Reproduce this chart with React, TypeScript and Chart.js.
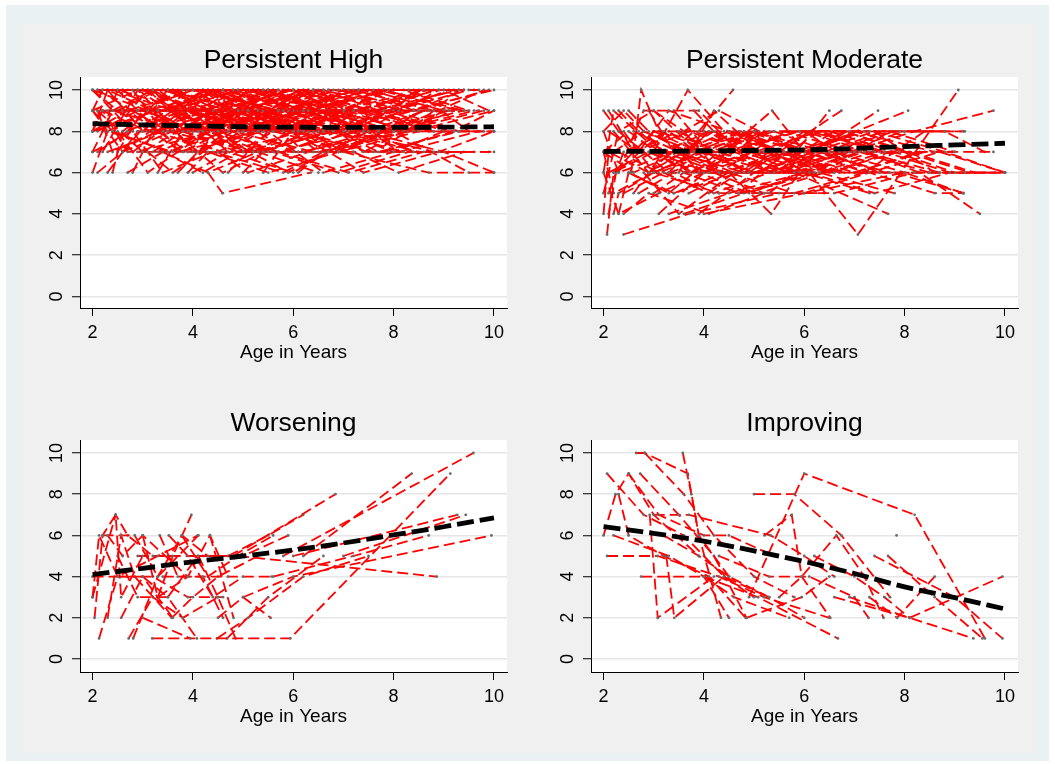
import React, { useEffect, useRef } from "react";
import { Chart, registerables } from "chart.js";
Chart.register(...registerables);

type Pt = [number, number];

const FONT = "'Liberation Sans', Arial, Helvetica, sans-serif";

const xTicks = [2, 4, 6, 8, 10];
const yTicks = [0, 2, 4, 6, 8, 10];
const xAxisTitle = "Age in Years";
const panelTitles = ["Persistent High", "Persistent Moderate", "Worsening", "Improving"];

const trendAges = [2, 3, 4, 5, 6, 7, 8, 9, 10];
const trendHigh = [8.37, 8.31, 8.26, 8.22, 8.2, 8.19, 8.19, 8.2, 8.22];
const trendModerate = [7.02, 7.03, 7.05, 7.07, 7.1, 7.17, 7.26, 7.34, 7.42];
const trendWorsening = [4.1, 4.4, 4.72, 5.0, 5.29, 5.63, 6.02, 6.42, 6.85];
const trendImproving = [6.42, 6.1, 5.72, 5.25, 4.73, 4.15, 3.5, 2.98, 2.43];

const highTrajectories: Pt[][] = [
  [[2.0,10],[3.1,9],[4.6,10],[6.2,9]],
  [[2.0,9],[2.9,10],[4.2,8],[5.8,9],[7.3,10]],
  [[2.0,8],[3.3,9],[4.9,9],[6.5,8],[8.1,9]],
  [[2.0,7],[2.4,9],[3.8,8],[5.5,10]],
  [[2.0,6],[2.3,8],[3.6,7],[5.1,9]],
  [[2.1,10],[3.5,8],[5.2,7],[6.8,8],[8.4,9]],
  [[2.1,9],[3.0,7],[4.4,9],[6.0,10],[7.7,8],[9.1,9]],
  [[2.2,8],[2.5,10],[3.9,9],[5.3,8]],
  [[2.2,10],[3.2,10],[4.7,8],[6.3,9],[7.9,10]],
  [[2.3,9],[3.7,9],[5.0,7],[6.6,8]],
  [[2.3,7],[3.4,8],[4.8,10],[6.1,8],[7.6,7],[9.0,9]],
  [[2.4,6],[2.6,8],[4.1,9],[5.6,8]],
  [[2.4,10],[3.6,9],[4.9,10],[6.4,10],[8.0,9],[9.5,10]],
  [[2.5,9],[3.8,7],[5.4,9],[7.0,8]],
  [[2.5,8],[3.1,6],[4.3,8],[5.9,9]],
  [[2.6,10],[3.9,8],[5.1,9],[6.7,7],[8.3,8]],
  [[2.6,7],[3.3,9],[4.5,9],[6.0,7]],
  [[2.7,9],[4.0,10],[5.7,9],[7.2,9],[8.8,8]],
  [[2.7,8],[3.5,10],[5.0,8],[6.5,9]],
  [[2.8,10],[3.7,7],[5.3,8],[7.1,10]],
  [[2.8,6],[3.2,8],[4.6,7],[6.2,8]],
  [[2.9,9],[4.2,9],[5.6,10],[7.4,8],[8.9,10]],
  [[2.9,7],[4.4,8],[5.9,6],[7.5,8]],
  [[3.0,10],[4.1,9],[5.5,7],[7.0,9]],
  [[3.0,8],[3.9,10],[5.4,10],[6.9,9],[8.6,10]],
  [[3.1,9],[4.5,7],[6.1,9],[7.8,9]],
  [[3.1,7],[3.6,6],[4.8,8],[6.4,7]],
  [[3.2,10],[4.3,10],[5.8,8],[7.3,9]],
  [[3.2,8],[4.6,9],[6.0,9],[7.7,7],[9.3,8]],
  [[3.3,9],[4.0,7],[5.2,8],[6.8,10]],
  [[3.3,6],[3.8,8],[5.0,9],[6.6,9]],
  [[3.4,10],[4.7,9],[6.3,8],[8.0,8],[9.6,9]],
  [[3.4,7],[4.2,6],[5.6,8],[7.2,7]],
  [[3.5,9],[4.9,10],[6.5,7],[8.2,8]],
  [[3.5,8],[4.4,10],[5.9,9],[7.6,10]],
  [[3.6,10],[5.1,8],[6.7,9],[8.4,7]],
  [[3.6,7],[4.8,9],[6.4,8]],
  [[3.7,6],[4.5,8],[5.7,7],[7.3,8]],
  [[3.7,9],[5.3,9],[6.9,10],[8.5,9]],
  [[3.8,10],[5.0,10],[6.2,7],[7.9,8]],
  [[3.8,8],[5.2,7],[6.8,8],[8.3,10]],
  [[3.9,6],[4.3,7],[5.5,6],[6.9,7]],
  [[3.9,9],[5.4,8],[7.0,9],[8.7,9]],
  [[4.0,8],[5.6,10],[7.1,8],[8.8,7]],
  [[4.0,6],[4.7,7],[6.0,6],[7.4,8]],
  [[4.1,10],[5.7,9],[7.3,10],[9.0,10]],
  [[4.1,7],[5.3,9],[6.9,7],[8.5,8]],
  [[4.2,9],[5.8,8],[7.5,9],[9.2,8]],
  [[4.3,6],[4.59,5],[6.35,6]],
  [[4.3,8],[5.9,10],[7.4,7],[9.0,9]],
  [[4.4,10],[6.0,8],[7.6,9],[9.3,10]],
  [[4.5,7],[5.1,6],[6.3,7],[7.8,9]],
  [[4.6,9],[6.1,9],[7.7,8],[9.4,9]],
  [[4.7,6],[5.5,8],[6.6,6],[8.0,7]],
  [[4.8,10],[6.3,9],[8.0,10],[9.7,10]],
  [[4.9,8],[6.4,10],[8.1,8],[9.8,9]],
  [[5.0,6],[5.4,7],[6.7,8],[8.2,7]],
  [[5.1,9],[6.6,8],[8.3,9],[10.0,10]],
  [[5.2,7],[6.8,9],[8.4,8],[10.0,9]],
  [[5.3,10],[6.9,7],[8.6,9]],
  [[5.4,6],[6.0,8],[7.4,6],[8.9,7],[10.0,8]],
  [[5.6,8],[7.2,10],[8.8,9]],
  [[5.7,7],[7.1,6],[8.6,7],[10.0,7]],
  [[5.8,9],[7.4,8],[9.0,7],[10.0,6]],
  [[6.0,10],[7.6,9],[9.1,9]],
  [[6.1,6],[6.6,7],[8.0,8],[9.5,6]],
  [[6.2,8],[7.8,10],[9.4,9]],
  [[6.4,7],[7.9,7],[9.6,7]],
  [[6.5,9],[8.1,8],[9.8,8]],
  [[6.7,10],[8.2,10],[9.5,9]],
  [[6.9,8],[8.5,7],[9.9,7]],
  [[7.0,7],[8.7,6],[10.0,6]],
  [[7.3,9],[8.9,10],[9.6,10]],
  [[7.5,10],[9.0,9]],
  [[7.8,7],[9.2,8],[10.0,9]],
  [[8.0,9],[9.3,8],[10.0,8]],
  [[2.0,10],[2.5,9],[3.3,10],[4.5,8],[5.6,9]],
  [[2.0,9],[2.6,7],[3.7,9],[4.9,9],[6.4,10]],
  [[2.0,8],[2.7,9],[3.9,7],[5.4,8],[7.0,8]],
  [[2.0,7],[2.8,8],[3.4,6],[4.4,7],[5.8,6],[6.6,7]],
  [[2.1,8],[2.9,9],[4.0,10],[5.5,8],[7.1,9]],
  [[2.1,6],[2.6,7],[3.6,8],[4.6,6],[5.4,7]],
  [[2.2,9],[3.1,8],[4.3,9],[5.9,8],[7.4,10]],
  [[2.3,10],[3.0,8],[4.2,10],[5.7,9],[7.2,9],[8.7,10]],
  [[2.4,8],[3.5,7],[4.7,8],[6.3,10]],
  [[2.5,7],[3.0,9],[4.1,8],[5.3,7],[6.8,8]],
  [[2.6,9],[3.4,9],[4.6,10],[6.1,9],[7.9,9],[9.2,10]],
  [[2.7,10],[3.6,10],[5.0,9],[6.6,10],[8.2,9]],
  [[2.8,7],[3.9,9],[5.1,8],[6.7,10],[8.5,10]],
  [[2.9,8],[4.1,8],[5.7,10],[7.3,8],[9.0,8]],
  [[3.0,9],[4.5,9],[6.0,10],[7.6,8]],
  [[3.1,10],[4.0,8],[5.6,9],[7.0,7],[8.6,9]],
  [[3.2,7],[4.4,9],[6.0,8],[7.5,7],[9.1,7]],
  [[3.4,8],[4.8,8],[6.2,9],[7.8,10],[9.4,10]],
  [[3.5,10],[4.9,9],[6.5,10],[8.1,7],[9.7,8]],
  [[3.7,8],[5.2,10],[6.8,9],[8.4,9],[9.9,10]],
  [[2.0,9],[2.2,10],[3.0,10],[4.0,9],[5.0,10]],
  [[2.1,7],[2.7,8],[3.8,9],[4.7,7],[6.0,9]],
  [[2.3,8],[3.2,9],[4.1,7],[5.0,8],[6.5,8]],
  [[2.5,10],[3.3,8],[4.2,8],[5.7,10],[7.0,10]],
  [[4.5,9],[5.5,9],[6.3,10],[7.5,9],[8.8,8]],
  [[4.2,7],[5.6,7],[6.9,6],[8.3,7]],
  [[5.0,9],[6.2,10],[7.2,8],[8.6,10]],
  [[5.5,10],[6.5,8],[7.7,10],[9.3,9]],
  [[3.0,7],[3.8,7],[5.0,7],[6.1,7]],
  [[2.0,10],[2.8,8],[3.5,9],[4.3,10],[5.2,9],[6.1,8]],
  [[2.0,8],[2.3,10],[3.2,9],[4.1,9],[5.0,7],[6.0,8]],
  [[2.1,9],[2.4,7],[3.3,8],[4.6,9],[5.9,10],[7.0,9]],
  [[2.2,7],[2.9,10],[3.7,8],[4.8,9],[5.8,10]],
  [[2.4,9],[3.2,10],[4.0,8],[5.1,10],[6.2,9],[7.5,8]],
  [[2.6,8],[3.7,10],[4.5,9],[5.5,9],[6.7,8],[7.8,10]],
  [[2.8,9],[3.6,9],[4.4,8],[5.4,10],[6.4,9],[7.4,9],[8.5,8]],
  [[3.0,10],[3.7,9],[4.8,9],[5.9,8],[7.0,10],[8.1,9]],
  [[3.3,8],[4.2,10],[5.3,8],[6.2,10],[7.2,9],[8.3,9],[9.3,9]],
  [[3.6,9],[4.6,8],[5.6,9],[6.6,10],[7.7,9],[8.8,10]],
  [[4.0,9],[5.0,8],[6.1,10],[7.1,9],[8.2,8],[9.2,9]],
  [[4.4,8],[5.5,10],[6.5,9],[7.5,8],[8.6,9],[9.7,9]],
  [[4.8,9],[5.9,9],[6.9,8],[8.0,9],[9.1,10]],
  [[5.2,8],[6.3,8],[7.3,10],[8.4,10],[9.5,8]],
  [[5.9,8],[6.9,9],[7.9,9],[9.0,8],[10.0,8]],
  [[6.3,9],[7.3,8],[8.3,8],[9.3,10]],
  [[2.0,8],[2.2,9],[2.7,7],[3.3,7],[4.3,8],[5.4,7]],
  [[2.3,6],[2.9,8],[3.8,8],[4.9,7],[6.2,7],[7.6,8]],
  [[2.7,6],[3.4,7],[4.3,6],[5.3,7],[6.5,6]],
  [[3.9,7],[4.9,7],[5.8,7],[6.9,8],[8.0,7],[9.0,8]],
  [[5.0,7],[6.1,7],[7.2,7],[8.1,6],[9.4,7]],
  [[2.5,9],[3.4,9],[4.5,10],[5.4,9],[6.5,8],[7.8,8]],
  [[2.1,10],[2.6,10],[3.4,10],[4.2,10],[5.0,9]],
  [[3.5,10],[4.3,9],[5.2,10],[6.0,9],[6.9,9],[8.0,10]],
  [[4.6,10],[5.4,9],[6.4,9],[7.4,10],[8.4,9],[9.4,10]],
  [[6.0,9],[7.0,10],[8.0,10],[9.0,10],[9.9,9]],
  [[2.2,9],[2.8,9],[3.5,8],[4.4,9],[5.3,8],[6.4,9]],
  [[3.1,8],[3.9,9],[4.7,8],[5.7,8],[6.6,9],[7.6,9],[8.7,8]],
  [[7.0,8],[7.9,8],[8.9,9],[9.8,10]],
  [[2.0,9],[2.4,8],[3.1,10],[4.2,9],[5.3,10]],
];

const moderateTrajectories: Pt[][] = [
  [[2.0,8],[2.3,6],[3.4,7],[4.8,6]],
  [[2.0,6],[2.2,9],[3.1,7],[4.5,7]],
  [[2.0,4],[2.1,7],[2.9,6],[4.2,8]],
  [[2.0,5],[2.3,8],[3.3,6],[4.6,7]],
  [[2.07,3],[2.2,6],[3.0,7],[4.1,6]],
  [[2.0,7],[2.5,8],[3.6,6],[5.0,7]],
  [[2.1,4],[2.25,6],[3.2,8],[4.4,7]],
  [[2.1,9],[2.6,7],[3.5,8],[4.9,6]],
  [[2.2,4],[2.3,5],[3.0,6],[4.3,5]],
  [[2.2,7],[2.8,8],[3.8,7],[5.3,8]],
  [[2.3,9],[2.7,8],[3.7,6],[5.1,7]],
  [[2.3,4],[2.5,6],[3.4,5],[4.7,6]],
  [[2.4,3],[3.7,4],[5.5,5]],
  [[2.4,8],[3.0,6],[4.0,7],[5.4,6]],
  [[2.5,9],[2.9,8],[4.0,8],[5.6,7]],
  [[2.55,6],[2.75,10],[3.1,8],[4.2,7]],
  [[2.6,5],[3.2,7],[4.3,6],[5.8,6]],
  [[2.7,7],[3.3,9],[4.5,8],[6.0,7]],
  [[2.8,6],[3.5,4],[4.6,6],[6.1,6]],
  [[2.9,9],[3.4,7],[4.4,7],[5.9,8]],
  [[3.0,7],[3.68,10],[4.4,8],[5.5,7]],
  [[3.0,5],[3.6,6],[4.7,5],[6.2,6]],
  [[3.1,4],[4.0,6],[5.2,7],[6.6,6]],
  [[3.2,8],[3.9,6],[5.0,8],[6.4,7]],
  [[3.3,4],[4.5,5],[6.0,6],[7.5,6]],
  [[3.3,6],[4.1,8],[5.3,6],[6.8,7]],
  [[3.4,9],[4.1,7],[5.4,8],[6.9,8]],
  [[3.5,6],[4.2,9],[5.1,7],[6.5,6]],
  [[3.6,4],[4.8,5],[6.3,6],[7.8,5]],
  [[3.6,8],[4.3,6],[5.6,8],[7.0,7]],
  [[3.7,5],[4.5,6],[5.8,5],[7.2,6]],
  [[3.8,9],[4.6,7],[5.9,8],[7.3,8]],
  [[3.9,4],[5.0,6],[6.2,7],[7.7,6]],
  [[3.9,8],[4.58,10]],
  [[4.0,7],[4.9,6],[6.1,8],[7.6,7]],
  [[4.0,4],[6.0,5],[8.0,6],[9.17,5]],
  [[4.1,6],[4.8,8],[6.0,6],[7.4,7]],
  [[4.2,8],[5.0,7],[6.3,8],[7.9,8]],
  [[4.3,5],[5.1,5],[6.4,6],[7.9,7]],
  [[4.4,7],[5.36,9],[6.0,7],[7.3,6]],
  [[4.5,6],[5.34,4],[5.9,6],[7.2,7]],
  [[4.6,8],[5.5,6],[6.7,7],[8.0,8]],
  [[4.7,5],[5.6,7],[6.8,6],[8.2,6]],
  [[4.8,7],[5.7,8],[7.0,8],[8.6,7]],
  [[4.9,6],[5.8,6],[7.1,7],[8.5,6]],
  [[5.0,8],[6.0,7],[7.2,8],[8.8,8]],
  [[5.1,6],[6.1,6],[7.4,5],[8.9,6]],
  [[5.2,7],[6.2,8],[7.5,7],[9.0,7]],
  [[5.3,5],[6.3,7],[7.6,6],[9.2,6]],
  [[5.4,8],[6.5,7],[7.8,8],[9.17,8]],
  [[5.5,6],[6.5,9]],
  [[5.5,7],[6.74,9]],
  [[5.6,6],[7.47,9]],
  [[5.8,6],[7.67,4]],
  [[6.0,7],[8.07,9]],
  [[6.1,6],[7.07,3],[9.07,10]],
  [[6.2,7],[7.4,8],[8.6,6],[10.0,6]],
  [[6.3,6],[7.6,7],[8.9,6],[10.0,6]],
  [[6.5,8],[7.8,7],[9.0,6],[10.0,6]],
  [[6.9,7],[8.2,8],[9.77,9]],
  [[7.0,6],[8.3,7],[9.77,7]],
  [[7.2,7],[8.3,6],[9.5,4]],
  [[7.4,8],[8.8,7],[10.0,6]],
  [[7.8,6],[9.17,5]],
  [[2.0,8],[2.4,9],[3.2,7],[4.1,8],[5.2,7]],
  [[2.0,6],[2.3,4],[3.1,5],[4.0,6],[5.0,6]],
  [[2.0,7],[2.2,5],[3.0,6],[3.9,7],[4.9,7]],
  [[2.1,6],[2.9,7],[3.8,6],[5.0,6],[6.2,7]],
  [[2.2,8],[2.9,6],[3.6,7],[4.8,8],[6.0,6]],
  [[2.3,7],[3.1,6],[4.2,7],[5.5,7],[6.7,6]],
  [[2.5,6],[3.3,5],[4.3,7],[5.6,6],[6.9,7]],
  [[2.6,8],[3.5,7],[4.6,6],[5.8,7],[7.1,8]],
  [[2.7,5],[3.4,6],[4.2,5],[5.3,6],[6.6,8]],
  [[2.8,8],[3.7,7],[4.7,8],[6.0,8],[7.3,7]],
  [[2.9,6],[3.8,8],[4.9,7],[6.2,6],[7.5,8]],
  [[3.0,8],[3.9,7],[5.0,6],[6.4,7],[7.8,7]],
  [[3.2,6],[4.1,5],[5.3,7],[6.6,7],[8.0,6]],
  [[3.4,7],[4.4,6],[5.7,7],[7.0,6],[8.4,7]],
  [[3.5,8],[4.7,8],[5.9,7],[7.2,7],[8.7,6]],
  [[4.0,6],[5.2,8],[6.4,6],[7.7,8],[9.0,7]],
  [[4.3,7],[5.4,6],[6.8,8],[8.1,7],[9.4,6]],
  [[4.8,6],[6.0,8],[7.3,6],[8.7,7],[10.0,6]],
  [[2.0,9],[2.3,8],[3.0,9],[3.9,7]],
  [[2.1,5],[2.4,7],[3.3,8],[4.4,6]],
  [[2.3,6],[2.8,9],[3.9,9],[4.7,7]],
  [[2.4,4],[2.9,5],[4.1,4],[5.2,5]],
  [[5.0,5],[6.6,5],[8.2,6],[9.6,6]],
  [[3.0,9],[3.6,8],[4.3,9],[5.1,8]],
  [[6.0,5],[7.3,6],[8.6,5],[9.17,5]],
  [[2.0,7],[2.6,6],[3.5,7],[4.5,8],[5.6,7],[6.7,7]],
  [[2.2,6],[3.0,8],[4.0,6],[5.1,6],[6.3,8],[7.6,7]],
  [[2.6,7],[3.6,7],[4.6,7],[5.7,6],[6.8,7],[8.0,7]],
  [[3.0,6],[4.0,7],[5.0,8],[6.1,7],[7.2,6],[8.4,8]],
  [[3.4,5],[4.4,6],[5.5,7],[6.6,6],[7.7,7],[8.9,7]],
  [[3.8,7],[4.9,8],[6.0,7],[7.1,8],[8.3,8],[9.2,8]],
  [[4.2,6],[5.3,6],[6.4,7],[7.5,6],[8.7,6],[9.8,6]],
  [[2.1,8],[2.7,7],[3.7,8],[4.8,7],[5.9,6]],
  [[2.4,5],[3.2,6],[4.2,6],[5.2,5],[6.4,5]],
  [[2.9,7],[3.9,6],[4.9,5],[6.0,6],[7.3,5]],
  [[5.6,8],[6.8,8],[8.0,7],[9.3,6]],
  [[6.4,7],[7.6,8],[8.8,8],[9.6,7]],
];

const worseningTrajectories: Pt[][] = [
  [[2.0,3],[2.13,6],[2.5,4],[3.3,5],[4.1,6]],
  [[2.04,2],[2.2,6],[2.46,7],[2.57,3],[3.0,5]],
  [[2.13,1],[2.5,4],[3.0,4],[3.6,2]],
  [[2.3,2],[2.57,6],[2.84,4],[3.58,2]],
  [[2.3,6],[2.6,5],[3.0,6],[3.9,4]],
  [[2.57,2],[3.0,4],[3.5,3],[4.1,5],[4.8,5]],
  [[2.72,1],[3.2,3],[3.8,2],[4.5,3]],
  [[2.81,1],[3.3,4],[3.78,6],[4.3,5]],
  [[3.0,6],[3.3,3],[3.9,4],[4.34,6],[4.7,4]],
  [[3.0,2],[3.95,1]],
  [[3.19,1],[5.94,1],[9.13,9]],
  [[3.34,6],[3.7,4],[4.2,4],[4.6,2]],
  [[3.52,6],[3.9,5],[4.4,3],[5.0,4]],
  [[3.3,3],[3.6,5],[3.97,7]],
  [[3.4,4],[5.57,4]],
  [[4.9,5],[8.86,4]],
  [[4.8,5],[6.84,8]],
  [[4.7,5],[5.5,6],[6.2,7]],
  [[5.8,5],[9.59,10]],
  [[6.2,5],[8.36,9]],
  [[6.0,5],[9.27,7]],
  [[7.0,5],[9.44,7]],
  [[5.0,3],[6.0,4],[9.95,6]],
  [[5.6,4],[7.2,5],[8.7,6]],
  [[4.5,2],[5.0,3],[5.55,2]],
  [[4.11,5],[4.5,3],[4.85,1]],
  [[4.48,1],[5.1,2],[6.2,4],[7.5,5]],
  [[4.68,1],[5.5,3],[6.6,5]],
  [[2.2,6],[2.84,6],[3.3,4],[4.11,6]],
  [[2.5,5],[2.9,3],[3.5,3],[4.08,1]],
  [[3.58,2],[4.0,3],[4.5,4],[5.3,5]],
  [[3.78,6],[4.3,4],[4.9,5],[5.6,6]],
  [[4.34,6],[4.81,2]],
  [[2.0,3],[2.46,7],[2.7,6],[3.2,5]],
  [[2.9,5],[3.5,5],[4.2,5],[5.0,5],[5.9,6]],
  [[2.0,4],[2.6,4],[3.2,4],[3.9,3],[4.6,3]],
];

const improvingTrajectories: Pt[][] = [
  [[2.07,9],[2.8,7],[3.6,6],[4.4,4],[5.3,3]],
  [[2.0,6],[2.24,8],[2.5,9],[3.0,7],[3.9,5]],
  [[2.07,5],[3.08,5],[4.3,4],[5.2,3],[6.5,2]],
  [[2.2,6],[3.3,5],[4.0,4],[4.5,2]],
  [[2.65,10],[2.82,10],[3.68,9],[3.9,6],[4.5,4]],
  [[2.82,10],[3.6,8],[4.2,6],[5.0,4],[5.8,3]],
  [[3.58,10],[3.75,8],[3.9,6],[4.34,2]],
  [[2.73,9],[3.5,7],[4.2,5],[4.85,2]],
  [[2.5,9],[3.1,7],[4.0,6],[4.5,6],[5.4,5]],
  [[3.0,7],[3.7,7],[5.33,6],[6.0,5],[6.6,4]],
  [[2.92,7],[3.08,2],[4.2,4]],
  [[3.25,5],[3.41,2],[4.4,4],[5.0,3]],
  [[2.75,4],[4.0,4],[4.6,3],[5.7,2]],
  [[3.2,6],[3.9,5],[4.5,4],[5.3,3],[6.0,2]],
  [[5.0,8],[5.8,8],[6.74,6],[7.71,3]],
  [[4.9,3],[6.0,9],[8.2,7],[9.6,1]],
  [[7.84,6]],
  [[7.67,5],[8.6,3],[9.55,1]],
  [[7.3,3],[7.85,2],[8.6,4]],
  [[6.9,3],[8.1,2],[9.95,4]],
  [[7.4,5],[9.0,3],[9.95,1]],
  [[6.6,3],[8.1,2],[9.37,1]],
  [[4.0,4],[5.08,3],[6.67,1]],
  [[4.85,2],[5.95,3],[6.5,4]],
  [[5.21,6],[5.75,7],[5.95,4],[6.52,2]],
  [[5.5,3],[5.95,4],[6.64,6],[7.2,4],[7.58,2]],
  [[4.3,5],[5.3,4],[6.1,4],[7.0,3],[7.28,2]],
  [[2.3,8],[2.5,6],[3.2,5],[4.1,4],[4.83,2]],
  [[6.2,5],[7.0,4],[7.6,3],[8.1,2]],
];

type PanelSpec = {
  left: number; top: number; width: number; height: number;
  pad: { left: number; top: number; right: number; bottom: number };
  title: string; trajs: Pt[][]; trend: number[]; yMin: number;
};

const panels: PanelSpec[] = [
  { left: 22, top: 24, width: 508, height: 356, pad: { left: 8, top: 53, right: 23, bottom: 32 }, title: panelTitles[0], trajs: highTrajectories, trend: trendHigh, yMin: -0.56 },
  { left: 530, top: 24, width: 508, height: 356, pad: { left: 11, top: 53, right: 20, bottom: 32 }, title: panelTitles[1], trajs: moderateTrajectories, trend: trendModerate, yMin: -0.56 },
  { left: 22, top: 380, width: 508, height: 372, pad: { left: 8, top: 60, right: 23, bottom: 40 }, title: panelTitles[2], trajs: worseningTrajectories, trend: trendWorsening, yMin: -0.63 },
  { left: 530, top: 380, width: 508, height: 372, pad: { left: 11, top: 60, right: 20, bottom: 40 }, title: panelTitles[3], trajs: improvingTrajectories, trend: trendImproving, yMin: -0.63 },
];

const bgPlugin = {
  id: "plotBg",
  beforeDraw(chart: any) {
    const { ctx, chartArea } = chart;
    ctx.save();
    ctx.fillStyle = "#ffffff";
    ctx.fillRect(chartArea.left, chartArea.top, chartArea.right - chartArea.left, chartArea.bottom - chartArea.top);
    ctx.restore();
  },
};

function textPlugin(title: string) {
  return {
    id: "panelText",
    afterDraw(chart: any) {
      const { ctx, chartArea } = chart;
      const cx = (chartArea.left + chartArea.right) / 2;
      ctx.save();
      ctx.fillStyle = "#000";
      ctx.textAlign = "center";
      ctx.textBaseline = "alphabetic";
      ctx.font = `26.5px ${FONT}`;
      ctx.fillText(title, cx, chartArea.top - 9);
      ctx.font = `19px ${FONT}`;
      ctx.fillText(xAxisTitle, cx, chartArea.bottom + 50);
      ctx.restore();
    },
  };
}

function makeConfig(p: PanelSpec): any {
  const datasets: any[] = [];
  datasets.push({
    data: trendAges.map((a, i) => ({ x: a, y: p.trend[i] })),
    borderColor: "#000000",
    borderWidth: 4.8,
    borderDash: [17, 6],
    pointRadius: 0,
    cubicInterpolationMode: "monotone",
    order: 0,
    fill: false,
  });
  p.trajs.forEach((t) => {
    datasets.push({
      data: t.map(([x, y]) => ({ x, y })),
      borderColor: "#ff0000",
      borderWidth: 1.8,
      borderDash: [11, 5],
      pointRadius: 1.4,
      pointBackgroundColor: "#6a6a6a",
      pointBorderWidth: 0,
      tension: 0,
      order: 1,
      fill: false,
    });
  });
  const tickFont = { family: FONT, size: 18 };
  return {
    type: "line",
    data: { datasets },
    plugins: [bgPlugin, textPlugin(p.title)],
    options: {
      animation: false,
      responsive: false,
      maintainAspectRatio: false,
      devicePixelRatio: 1,
      events: [],
      layout: { padding: p.pad },
      plugins: { legend: { display: false }, tooltip: { enabled: false }, title: { display: false } },
      scales: {
        x: {
          type: "linear",
          min: 1.75,
          max: 10.26,
          afterBuildTicks: (s: any) => { s.ticks = xTicks.map((v) => ({ value: v })); },
          afterFit: (s: any) => { s.height = 40; },
          grid: { display: true, drawOnChartArea: false, drawTicks: true, tickLength: 8, tickColor: "#000", tickWidth: 1 },
          border: { display: true, color: "#000", width: 1 },
          ticks: { font: tickFont, color: "#000", padding: 6, maxRotation: 0, minRotation: 0, autoSkip: false },
        },
        y: {
          type: "linear",
          min: p.yMin,
          max: 10.63,
          afterBuildTicks: (s: any) => { s.ticks = yTicks.map((v) => ({ value: v })); },
          afterFit: (s: any) => { s.width = 50; },
          grid: { display: true, drawOnChartArea: true, drawTicks: true, color: "#e6e6e6", lineWidth: 1.5, tickLength: 8, tickColor: "#000", tickWidth: 1 },
          border: { display: true, color: "#000", width: 1 },
          ticks: { font: tickFont, color: "#000", padding: 4.5, minRotation: 90, maxRotation: 90, crossAlign: "center", autoSkip: false },
        },
      },
    },
  };
}

function Panel({ spec }: { spec: PanelSpec }) {
  const ref = useRef<HTMLCanvasElement>(null);
  useEffect(() => {
    const chart = new Chart(ref.current as HTMLCanvasElement, makeConfig(spec));
    return () => chart.destroy();
  }, [spec]);
  return (
    <canvas
      ref={ref}
      width={spec.width}
      height={spec.height}
      style={{ position: "absolute", left: spec.left, top: spec.top, width: spec.width, height: spec.height }}
    />
  );
}

export default function App() {
  return (
    <div style={{ position: "fixed", left: 0, top: 0, width: 1055, height: 764, background: "#ffffff", overflow: "hidden" }}>
      <div style={{ position: "absolute", left: 6, top: 5, width: 1043, height: 756, background: "#e9f1f3" }} />
      <div style={{ position: "absolute", left: 22, top: 24, width: 1016, height: 729, background: "#f0f0f0" }} />
      {panels.map((p, i) => (
        <Panel key={i} spec={p} />
      ))}
    </div>
  );
}
